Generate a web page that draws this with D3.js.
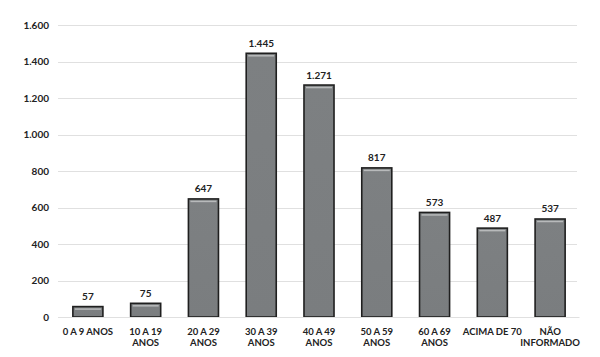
<!DOCTYPE html>
<html><head><meta charset="utf-8">
<script src="https://cdn.jsdelivr.net/npm/d3@7"></script>
<style>
html,body{margin:0;padding:0;background:#fff;}
svg{display:block;}
text{font-family:Lato,"Open Sans",sans-serif;font-weight:bold;fill:#222;}
</style></head>
<body>
<svg id="c" width="600" height="357"></svg>
<script>
const categories = [["0 A 9 ANOS"],["10 A 19","ANOS"],["20 A 29","ANOS"],["30 A 39","ANOS"],["40 A 49","ANOS"],["50 A 59","ANOS"],["60 A 69","ANOS"],["ACIMA DE 70"],["NÃO","INFORMADO"]];
const values = [57,75,647,1445,1271,817,573,487,537];
const valueLabels = ["57","75","647","1.445","1.271","817","573","487","537"];
const yTicks = [0,200,400,600,800,1000,1200,1400,1600];
const yTickLabels = ["0","200","400","600","800","1.000","1.200","1.400","1.600"];

const svg = d3.select("#c");
const m = {left:59, right:21, top:25, bottom:40};
const W = 600, H = 357;
const x = d3.scaleBand().domain(d3.range(values.length)).range([m.left, W-m.right]).paddingInner(0.48).paddingOuter(0.24);
const y = d3.scaleLinear().domain([0,1600]).range([H-m.bottom, m.top]);

const defs = svg.append("defs");
const g = defs.append("linearGradient").attr("id","bg").attr("x1",0).attr("y1",0).attr("x2",0).attr("y2",1);
g.append("stop").attr("offset","0").attr("stop-color","#7d8082");
g.append("stop").attr("offset","1").attr("stop-color","#7a7d7f");

// gridlines
svg.append("g").selectAll("line").data(yTicks).join("line")
  .attr("x1", m.left-1).attr("x2", W-m.right-2)
  .attr("y1", d=>Math.round(y(d))+0.5).attr("y2", d=>Math.round(y(d))+0.5)
  .attr("stroke","#e0e0e0").attr("stroke-width",1.2);

// y axis labels
const yAxis = d3.axisLeft(y).tickValues(yTicks).tickFormat((d,i)=>yTickLabels[i]).tickSize(0).tickPadding(10);
const ya = svg.append("g").attr("transform",`translate(${m.left},0)`).call(yAxis);
ya.select(".domain").remove();
ya.selectAll("text").style("font-size","10px").attr("fill","#222").style("font-family","Lato, sans-serif").style("font-weight","bold");

// bars
const bars = svg.append("g").selectAll("g").data(values).join("g");
bars.append("rect")
  .attr("x",(d,i)=>x(i)).attr("width",x.bandwidth())
  .attr("y",d=>y(d)).attr("height",d=>y(0)-y(d))
  .attr("fill","url(#bg)").attr("stroke","#1f1f1f").attr("stroke-width",1.6);
bars.append("line")
  .attr("x1",(d,i)=>x(i)+2).attr("x2",(d,i)=>x(i)+x.bandwidth()-2)
  .attr("y1",d=>y(d)+2.5).attr("y2",d=>y(d)+2.5)
  .attr("stroke","#b8babb").attr("stroke-width",1.5);

// value labels
svg.append("g").selectAll("text").data(values).join("text")
  .attr("x",(d,i)=>x(i)+x.bandwidth()/2).attr("y",d=>y(d)-6.5)
  .attr("text-anchor","middle").style("font-size","10px").text((d,i)=>valueLabels[i]);

// category labels
const xa = svg.append("g").attr("transform",`translate(0,${y(0)})`)
  .call(d3.axisBottom(x).tickSize(0).tickFormat(""));
xa.select(".domain").attr("stroke","#e0e0e0");
const cl = svg.append("g").selectAll("text").data(categories).join("text")
  .attr("text-anchor","middle").style("font-size","9.5px")
  .attr("transform",(d,i)=>`translate(${x(i)+x.bandwidth()/2},${y(0)+18})`);
cl.selectAll("tspan").data(d=>d).join("tspan")
  .attr("x",0).attr("dy",(d,i)=>i===0?0:"1.15em").text(d=>d);
</script>
</body></html>
